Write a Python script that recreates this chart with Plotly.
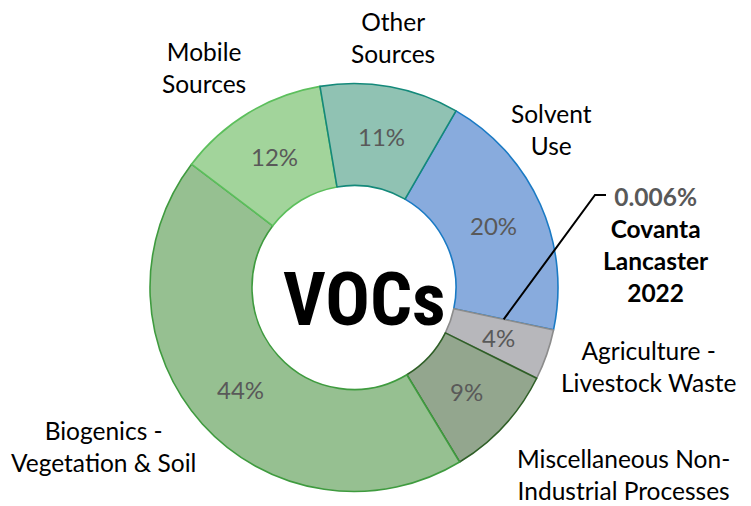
import math
import plotly.graph_objects as go

# ---- data ----
categories = ["Solvent Use", "Covanta Lancaster 2022", "Agriculture - Livestock Waste",
              "Miscellaneous Non-Industrial Processes", "Biogenics - Vegetation & Soil",
              "Mobile Sources", "Other Sources"]
values = [20, 0.006, 4, 9, 44, 12, 11]
label_texts = ["Solvent<br>Use", "", "Agriculture -<br>Livestock Waste",
               "Miscellaneous Non-<br>Industrial Processes", "Biogenics -<br>Vegetation & Soil",
               "Mobile<br>Sources", "Other<br>Sources"]
covanta_text = "0.006%"

fill_colors = ["#88abdd", "#88abdd", "#b7b7bb", "#93a68e", "#96c091", "#a2d49b", "#90c2b3"]
line_colors = ["#1a7ac4", "rgba(0,0,0,0)", "#8c8c8c", "#2f5f27", "#3f9b3f", "#5cbf5c", "#14897a"]
line_widths = [1.6, 0, 1.6, 1.6, 1.6, 1.6, 1.6]

OFF = 8                      # page body margin in the browser
W, H = 751 - OFF, 506 - OFF
CX, CY, R = 354, 287.5, 204  # screen pixels
HOLE = 0.5
ROT = 30
FONT = "Lato, Carlito, sans-serif"


def px(x):
    return (x - OFF) / W


def py(y):
    return 1 - (y - OFF) / H


fig = go.Figure()
fig.add_trace(go.Pie(
    labels=categories,
    values=values,
    sort=False,
    direction="clockwise",
    rotation=ROT,
    hole=HOLE,
    domain=dict(x=[px(CX - R), px(CX + R)], y=[py(CY + R), py(CY - R)]),
    marker=dict(colors=fill_colors, line=dict(color=line_colors, width=line_widths)),
    textinfo="none",
    showlegend=False,
    hoverinfo="label+percent",
))

annotations = []

# percent labels at the middle of the ring, angles derived from the data
total = sum(values)
rr = R * (1 + HOLE) / 2
cum = 0.0
for i, v in enumerate(values):
    mid = ROT + 360 * (cum + v / 2) / total
    cum += v
    if i == 1:
        cov_mid = mid
        continue
    x = CX + rr * math.sin(math.radians(mid))
    y = CY - rr * math.cos(math.radians(mid))
    annotations.append(dict(
        x=px(x), y=py(y), xref="paper", yref="paper", xanchor="center", yanchor="middle",
        text=f"{round(v / total * 100)}%", showarrow=False,
        font=dict(family=FONT, size=24, color="#595959"),
    ))

label_pos = {
    0: (551, 129),
    2: (648, 366),
    3: (623, 474),
    4: (103, 446),
    5: (204, 67),
    6: (393, 37),
}
for i, (x, y) in label_pos.items():
    annotations.append(dict(
        x=px(x), y=py(y), xref="paper", yref="paper", xanchor="center", yanchor="middle",
        text=label_texts[i], showarrow=False, align="center",
        font=dict(family=FONT, size=24.5, color="#000000"),
    ))

# Covanta callout
annotations.append(dict(
    x=px(656), y=py(245), xref="paper", yref="paper", xanchor="center", yanchor="middle",
    text=("<b><span style='color:#595959'>" + covanta_text + "</span></b><br>"
          "<b>Covanta</b><br><b>Lancaster</b><br><b>2022</b>"),
    showarrow=False, align="center",
    font=dict(family=FONT, size=24.5, color="#000000"),
))

# centre title
annotations.append(dict(
    x=px(364), y=py(299), xref="paper", yref="paper", xanchor="center", yanchor="middle",
    text="VOCs", showarrow=False,
    font=dict(family="Liberation Sans Narrow, Roboto Condensed, DejaVu Sans Condensed, sans-serif",
              size=74, color="#000000", weight="bold"),
))

# leader line from the Covanta slice (angle computed from the data)
sx = CX + rr * math.sin(math.radians(cov_mid))
sy = CY - rr * math.cos(math.radians(cov_mid))
elbow = (595, 195)
end = (606, 195)
shapes = [dict(type="path", xref="paper", yref="paper",
               path=f"M {px(sx)} {py(sy)} L {px(elbow[0])} {py(elbow[1])} L {px(end[0])} {py(end[1])}",
               line=dict(color="#000000", width=2))]

fig.update_layout(
    width=W, height=H,
    margin=dict(l=0, r=0, t=0, b=0),
    paper_bgcolor="white", plot_bgcolor="white",
    annotations=annotations,
    shapes=shapes,
)

fig.write_html("out.html")
